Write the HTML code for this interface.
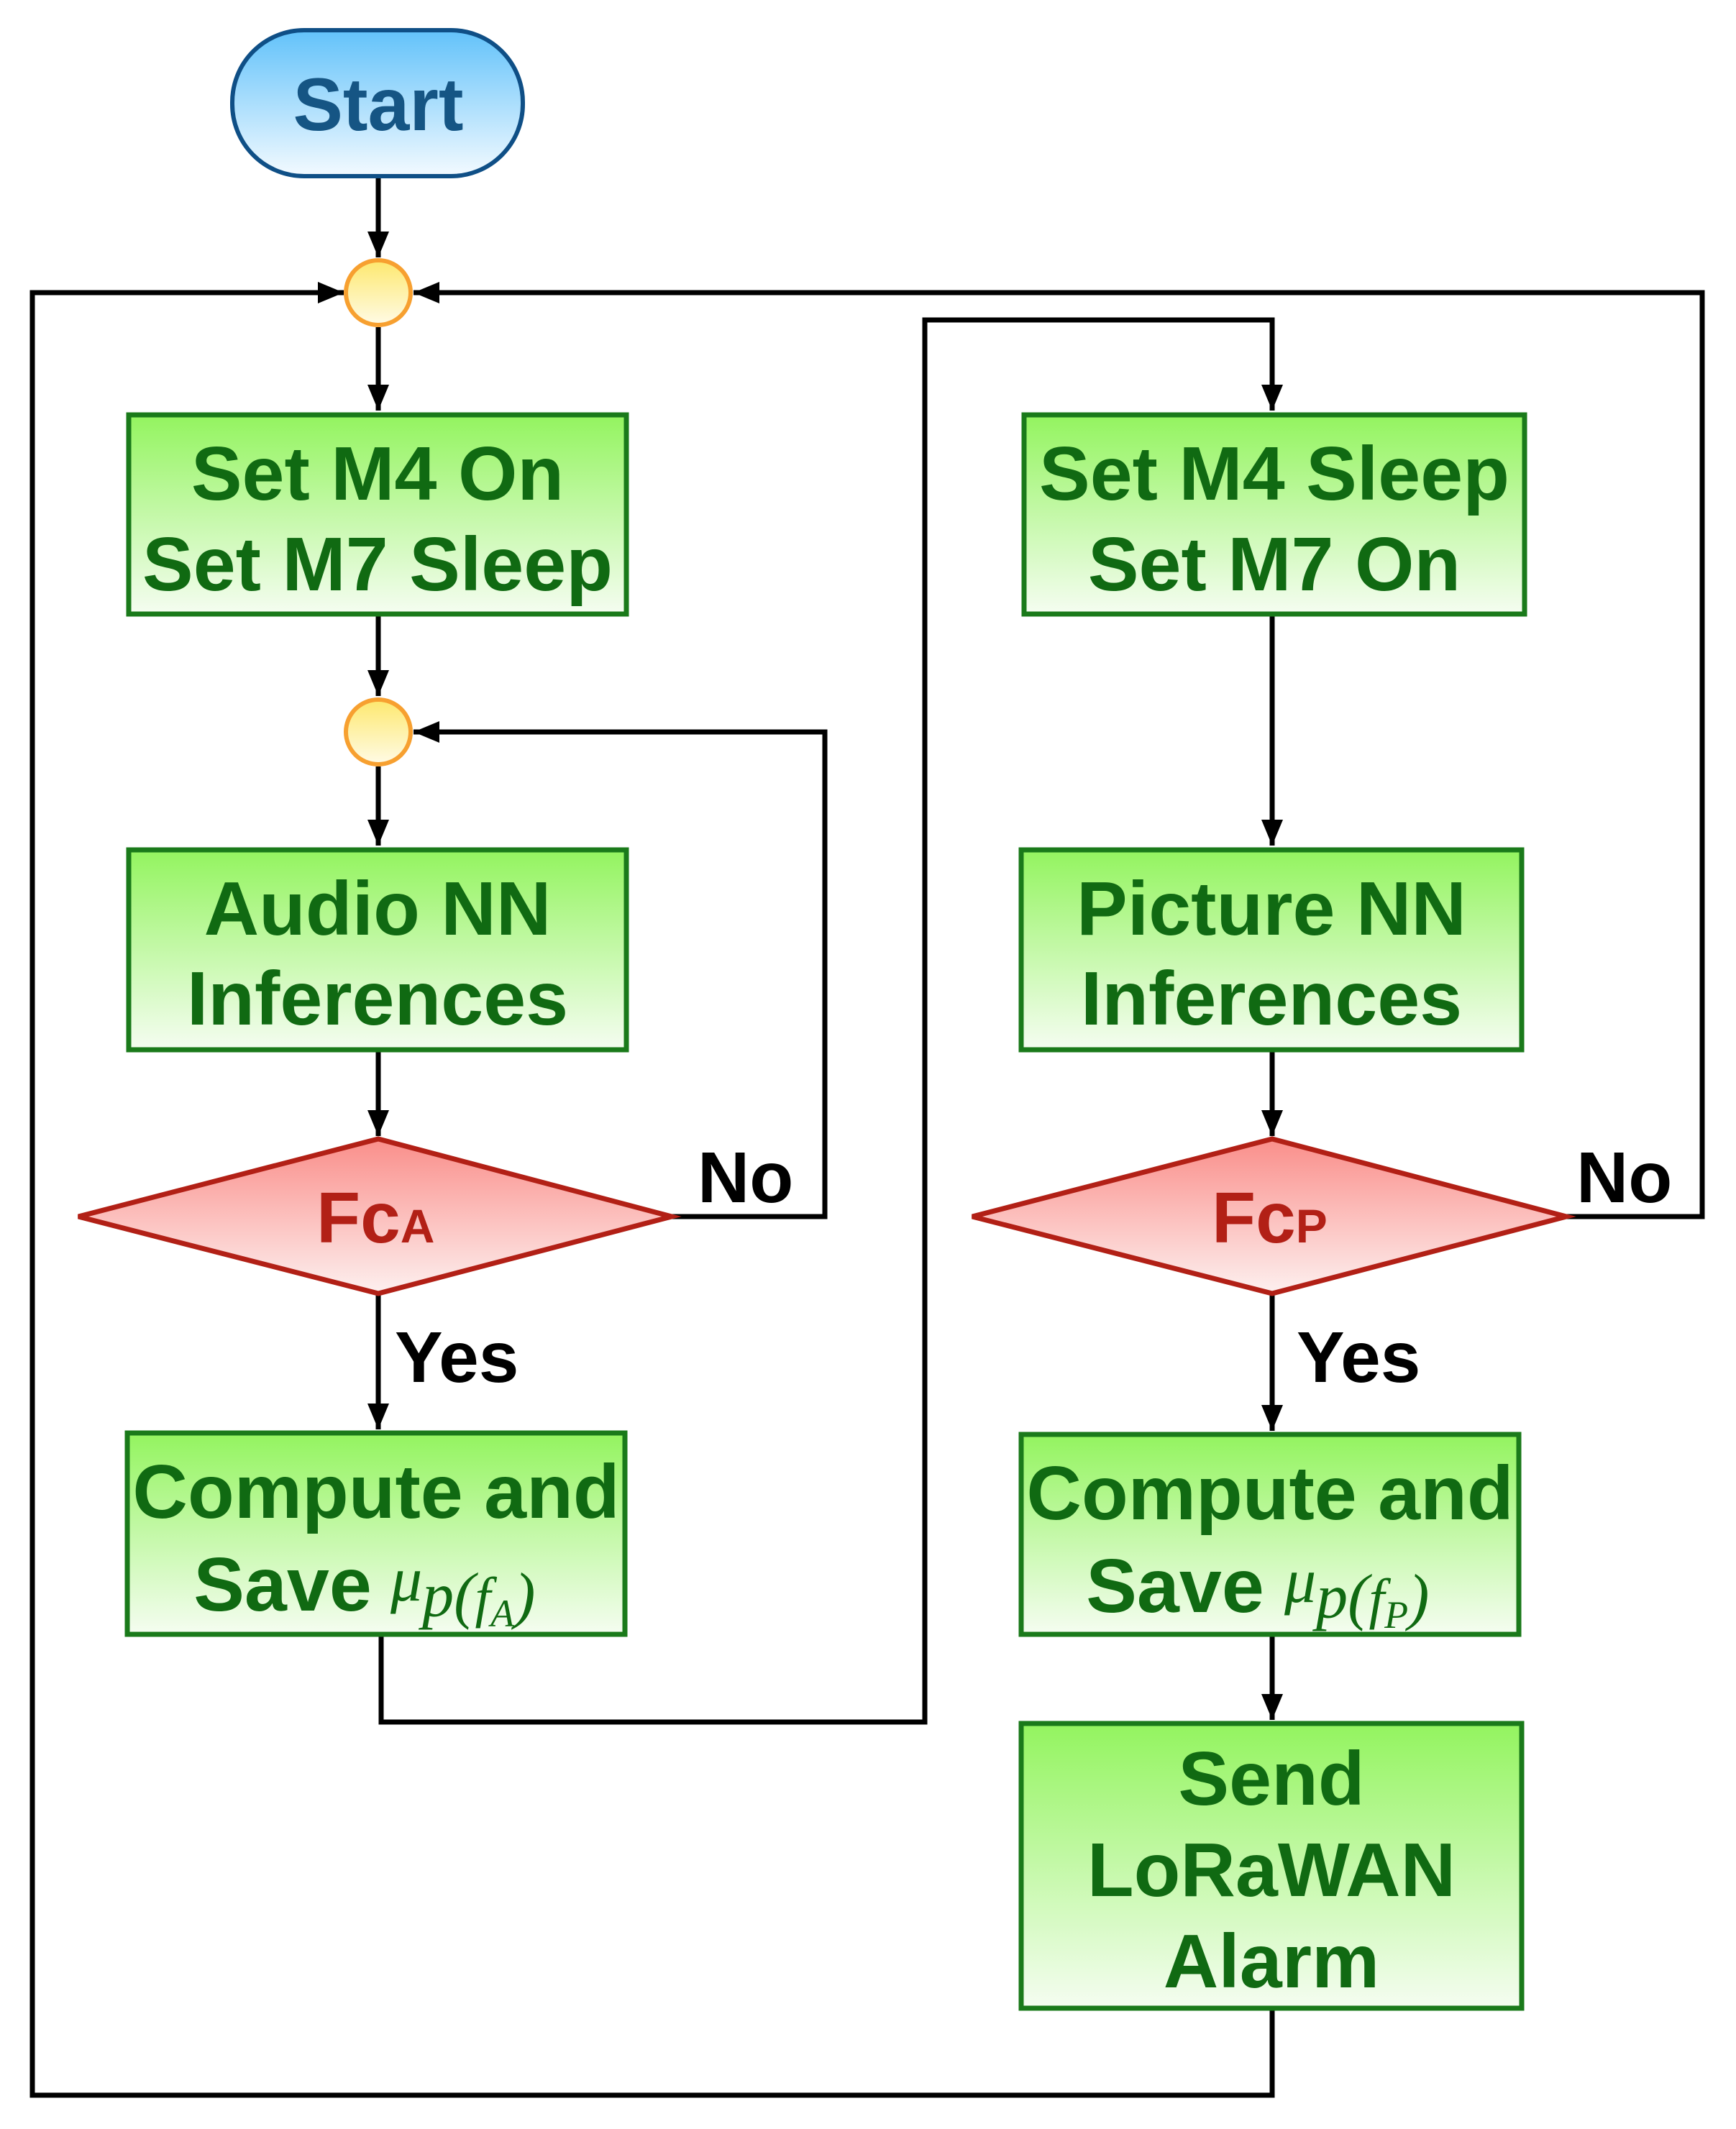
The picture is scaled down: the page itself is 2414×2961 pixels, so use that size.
<!DOCTYPE html>
<html><head><meta charset="utf-8"><style>
html,body{margin:0;padding:0;background:#fff;}
svg{display:block;}
.bt{font-family:"Liberation Sans",Arial,sans-serif;font-weight:bold;fill:#106a12;font-size:106px;text-anchor:middle;}
.lb{font-family:"Liberation Sans",Arial,sans-serif;font-weight:bold;fill:#000;font-size:100px;}
.mu{font-family:"Liberation Serif",serif;font-style:italic;fill:#106a12;font-weight:normal;}
</style></head><body>
<svg width="2414" height="2961" viewBox="0 0 2414 2961" xmlns="http://www.w3.org/2000/svg">
<defs>
<linearGradient id="g" x1="0" y1="0" x2="0" y2="1"><stop offset="0" stop-color="#93f45f"/><stop offset="1" stop-color="#f5fdf1"/></linearGradient>
<linearGradient id="r" x1="0" y1="0" x2="0" y2="1"><stop offset="0" stop-color="#fa8e8a"/><stop offset="1" stop-color="#fdf0ef"/></linearGradient>
<linearGradient id="b" x1="0" y1="0" x2="0" y2="1"><stop offset="0" stop-color="#62c2fa"/><stop offset="1" stop-color="#f3faff"/></linearGradient>
<linearGradient id="y" x1="0" y1="0" x2="0" y2="1"><stop offset="0" stop-color="#fde86e"/><stop offset="1" stop-color="#fffbe6"/></linearGradient>
<marker id="a" markerWidth="36" markerHeight="30" refX="36" refY="15" orient="auto" markerUnits="userSpaceOnUse"><path d="M0,0 L36,15 L0,30 Z" fill="#000"/></marker>
</defs>
<g fill="none" stroke="#000" stroke-width="7">
<path d="M526,245 V358" marker-end="url(#a)"/>
<path d="M526,455 V571" marker-end="url(#a)"/>
<path d="M526,856 V968" marker-end="url(#a)"/>
<path d="M526,1066 V1176" marker-end="url(#a)"/>
<path d="M526,1462 V1580" marker-end="url(#a)"/>
<path d="M526,1797 V1988" marker-end="url(#a)"/>
<path d="M934,1692 H1147 V1018 H575" marker-end="url(#a)"/>
<path d="M530,2275 V2395 H1286 V445 H1769 V571" marker-end="url(#a)"/>
<path d="M1769,856 V1176" marker-end="url(#a)"/>
<path d="M1769,1462 V1580" marker-end="url(#a)"/>
<path d="M1769,1797 V1990" marker-end="url(#a)"/>
<path d="M1769,2275 V2392" marker-end="url(#a)"/>
<path d="M1769,2795 V2914 H45 V407 H478" marker-end="url(#a)"/>
<path d="M2178,1692 H2367 V407 H575" marker-end="url(#a)"/>
</g>
<rect x="323" y="42" width="404" height="203" rx="100" fill="url(#b)" stroke="#0f4f86" stroke-width="6"/>
<text x="526" y="181" font-family="Liberation Sans,sans-serif" font-weight="bold" font-size="104" fill="#155584" text-anchor="middle">Start</text>
<ellipse cx="526" cy="407" rx="45" ry="45" fill="url(#y)" stroke="#f7a030" stroke-width="6"/>
<ellipse cx="526" cy="1018" rx="45" ry="45" fill="url(#y)" stroke="#f7a030" stroke-width="6"/>
<g stroke="#1a7a1a" stroke-width="7" fill="url(#g)">
<rect x="179" y="577" width="692" height="277"/>
<rect x="179" y="1182" width="692" height="278"/>
<rect x="177" y="1993" width="692" height="280"/>
<rect x="1424" y="577" width="696" height="277"/>
<rect x="1420" y="1182" width="696" height="278"/>
<rect x="1420" y="1995" width="692" height="278"/>
<rect x="1420" y="2397" width="696" height="396"/>
</g>
<g stroke="#b22016" stroke-width="7" fill="url(#r)">
<path d="M109,1692 L526,1584 L934,1692 L526,1799 Z"/>
<path d="M1352,1692 L1769,1584 L2178,1692 L1769,1799 Z"/>
</g>
<text class="bt" x="525" y="695">Set M4 On</text>
<text class="bt" x="525" y="821">Set M7 Sleep</text>
<text class="bt" x="525" y="1300">Audio NN</text>
<text class="bt" x="525" y="1425">Inferences</text>
<text class="bt" x="523" y="2111">Compute and</text>
<text class="bt" x="393" y="2240">Save</text>
<text class="mu" x="543" y="2226" font-size="88">μ<tspan font-size="88" dy="22">p(</tspan><tspan font-size="78">f</tspan><tspan font-size="54" dy="14">A</tspan><tspan font-size="88" dy="-14">)</tspan></text>
<text class="bt" x="1772" y="695">Set M4 Sleep</text>
<text class="bt" x="1772" y="821">Set M7 On</text>
<text class="bt" x="1768" y="1300">Picture NN</text>
<text class="bt" x="1768" y="1425">Inferences</text>
<text class="bt" x="1766" y="2113">Compute and</text>
<text class="bt" x="1634" y="2242">Save</text>
<text class="mu" x="1786" y="2228" font-size="88">μ<tspan font-size="88" dy="22">p(</tspan><tspan font-size="78">f</tspan><tspan font-size="54" dy="14">P</tspan><tspan font-size="88" dy="-14">)</tspan></text>
<text class="bt" x="1768" y="2510">Send</text>
<text class="bt" x="1768" y="2637">LoRaWAN</text>
<text class="bt" x="1768" y="2764">Alarm</text>
<text x="440" y="1728" font-family="Liberation Sans,sans-serif" font-weight="bold" font-size="100" fill="#b22016">Fc<tspan font-size="66">A</tspan></text>
<text x="1685" y="1728" font-family="Liberation Sans,sans-serif" font-weight="bold" font-size="100" fill="#b22016">Fc<tspan font-size="66">P</tspan></text>
<text class="lb" x="970" y="1672">No</text>
<text class="lb" x="2192" y="1672">No</text>
<text class="lb" x="549" y="1922">Yes</text>
<text class="lb" x="1803" y="1922">Yes</text>
</svg>
</body></html>
